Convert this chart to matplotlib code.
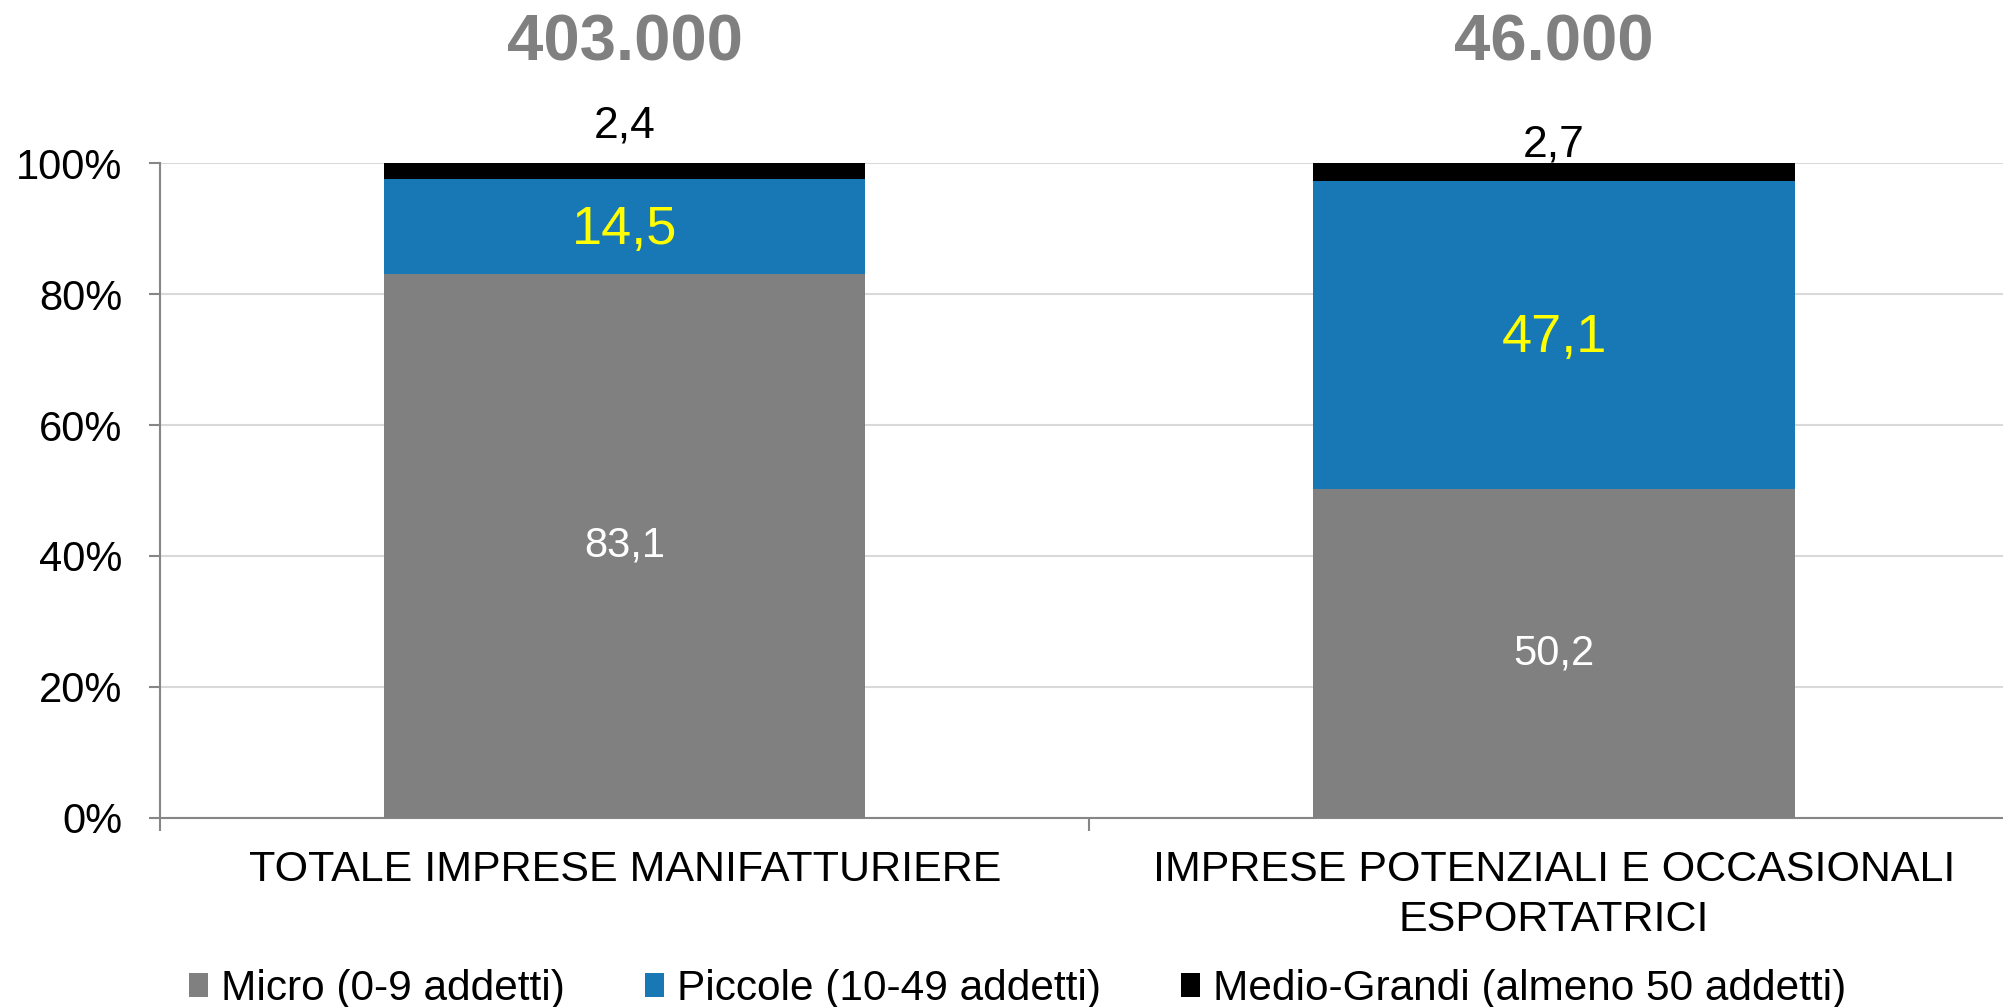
import matplotlib
matplotlib.use("Agg")
import matplotlib.pyplot as plt
import numpy as np
from matplotlib.patches import Patch
from matplotlib.ticker import FuncFormatter, FixedLocator

plt.rcParams['font.family'] = ['Liberation Sans', 'DejaVu Sans']

# data
categories = ["TOTALE IMPRESE MANIFATTURIERE",
              "IMPRESE POTENZIALI E OCCASIONALI\nESPORTATRICI"]
totals = ["403.000", "46.000"]
micro = [83.1, 50.2]
piccole = [14.5, 47.1]
medio_grandi = [2.4, 2.7]
series_names = ["Micro (0-9 addetti)", "Piccole (10-49 addetti)",
                "Medio-Grandi (almeno 50 addetti)"]
colors = ["#808080", "#1878B6", "#000000"]

fig = plt.figure(figsize=(20.03, 10.07), dpi=100)
ax = fig.add_axes([0.0799, 0.188, 0.928, 0.6497])

x = np.arange(len(categories))
w = 0.518
micro = np.array(micro)
piccole = np.array(piccole)
medio_grandi = np.array(medio_grandi)

ax.bar(x, micro, w, color=colors[0], zorder=3)
ax.bar(x, piccole, w, bottom=micro, color=colors[1], zorder=3)
ax.bar(x, medio_grandi, w, bottom=micro + piccole, color=colors[2], zorder=3)

# labels inside segments
for i in range(len(x)):
    ax.text(x[i], micro[i] / 2, f"{micro[i]:.1f}".replace(".", ","),
            ha='center', va='center', color='white', fontsize=30, zorder=4)
    ax.text(x[i], micro[i] + piccole[i] / 2 - 0.5, f"{piccole[i]:.1f}".replace(".", ","),
            ha='center', va='center', color='#FFFF00', fontsize=39, zorder=4)
black_offsets = [5.7, 2.8]
for i in range(len(x)):
    ax.text(x[i], 100 + black_offsets[i], f"{medio_grandi[i]:.1f}".replace(".", ","),
            ha='center', va='center', color='black', fontsize=32, zorder=4)
    ax.text(x[i], 1.183, totals[i], transform=ax.get_xaxis_transform(),
            ha='center', va='center', color='#808080', fontsize=47,
            fontweight='bold')

ax.set_xlim(-0.5, 1.5)
ax.set_ylim(0, 100)
ax.yaxis.set_major_locator(FixedLocator([0, 20, 40, 60, 80, 100]))
ax.yaxis.set_major_formatter(FuncFormatter(lambda v, p: f"{int(v)}%"))
ax.tick_params(axis='y', labelsize=30, length=8, width=1.5, color='#868686', pad=19)
ax.grid(axis='y', color='#D9D9D9', linewidth=1.5, zorder=0)

ax.set_xticks(x)
ax.set_xticklabels(categories, fontsize=31, linespacing=1.32)
ax.set_xticks([-0.5, 0.5, 1.5], minor=True)
ax.tick_params(axis='x', which='major', length=0, pad=23)
ax.tick_params(axis='x', which='minor', length=9, width=1.5, color='#868686')

for s in ['top', 'right']:
    ax.spines[s].set_visible(False)
for s in ['left', 'bottom']:
    ax.spines[s].set_color('#868686')
    ax.spines[s].set_linewidth(1.5)

handles = [Patch(facecolor=c, edgecolor='none', label=n) for c, n in zip(colors, series_names)]
fig.legend(handles=handles, loc='center', bbox_to_anchor=(0.508, 0.018), ncol=3,
           frameon=False, fontsize=30.5, handlelength=0.45, handleheight=0.5,
           handletextpad=0.3, columnspacing=1.9)

fig.savefig("out.png", dpi=100)
